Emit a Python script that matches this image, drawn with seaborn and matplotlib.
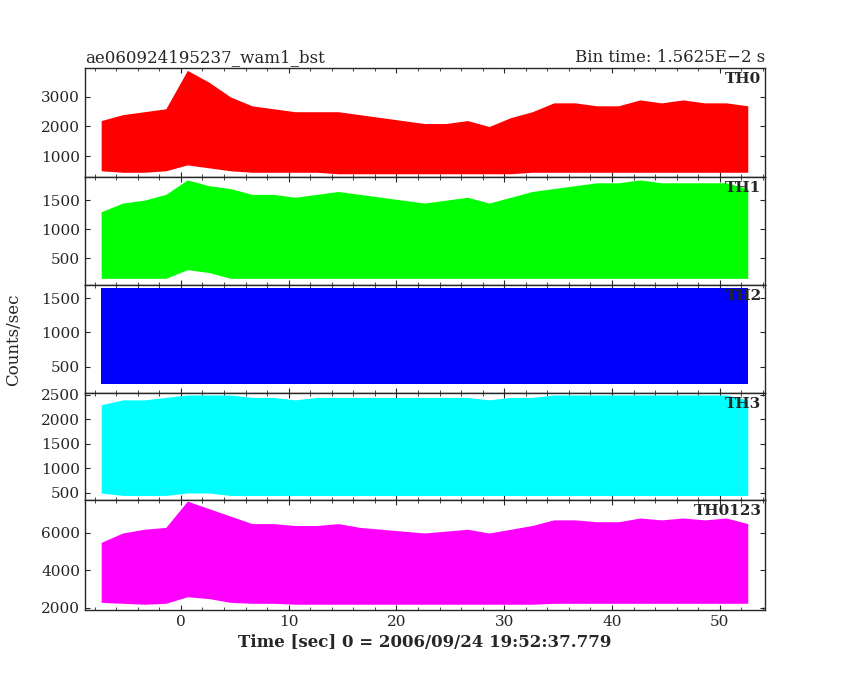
import numpy as np
import matplotlib
matplotlib.use("Agg")
import matplotlib.pyplot as plt
import seaborn as sns

sns.set_style("ticks")
plt.rcParams['font.family'] = ['DejaVu Serif']

# envelope of each light curve, read at 2 s steps from -7.4 s to 52.6 s
time_s = [-7.4, -5.4, -3.4, -1.4, 0.6, 2.6, 4.6, 6.6, 8.6, 10.6, 12.6, 14.6, 16.6,
          18.6, 20.6, 22.6, 24.6, 26.6, 28.6, 30.6, 32.6, 34.6, 36.6, 38.6, 40.6,
          42.6, 44.6, 46.6, 48.6, 50.6, 52.6]

th0_hi = [2200, 2400, 2500, 2600, 3900, 3500, 3000, 2700, 2600, 2500, 2500, 2500, 2400,
          2300, 2200, 2100, 2100, 2200, 2000, 2300, 2500, 2800, 2800, 2700, 2700,
          2900, 2800, 2900, 2800, 2800, 2700]
th0_lo = [500, 450, 450, 500, 700, 600, 500, 450, 450, 450, 450, 400, 400,
          400, 400, 400, 400, 400, 400, 400, 450, 450, 450, 450, 450,
          450, 450, 450, 450, 450, 450]
th1_hi = [1300, 1450, 1500, 1600, 1850, 1750, 1700, 1600, 1600, 1550, 1600, 1650, 1600,
          1550, 1500, 1450, 1500, 1550, 1450, 1550, 1650, 1700, 1750, 1800, 1800,
          1850, 1800, 1800, 1800, 1800, 1700]
th1_lo = [150, 150, 150, 150, 300, 250, 150, 150, 150, 150, 150, 150, 150,
          150, 150, 150, 150, 150, 150, 150, 150, 150, 150, 150, 150,
          150, 150, 150, 150, 150, 150]
th2_hi = [1650, 1650, 1650, 1650, 1650, 1650, 1650, 1650, 1650, 1650, 1650, 1650, 1650,
          1650, 1650, 1650, 1650, 1650, 1650, 1650, 1650, 1650, 1650, 1650, 1650,
          1650, 1650, 1650, 1650, 1650, 1650]
th2_lo = [250, 250, 250, 250, 250, 250, 250, 250, 250, 250, 250, 250, 250,
          250, 250, 250, 250, 250, 250, 250, 250, 250, 250, 250, 250,
          250, 250, 250, 250, 250, 250]
th3_hi = [2300, 2400, 2400, 2450, 2500, 2500, 2500, 2450, 2450, 2400, 2450, 2450, 2450,
          2450, 2450, 2450, 2450, 2450, 2400, 2450, 2450, 2500, 2500, 2500, 2500,
          2500, 2500, 2500, 2500, 2500, 2400]
th3_lo = [500, 450, 450, 450, 500, 500, 450, 450, 450, 450, 450, 450, 450,
          450, 450, 450, 450, 450, 450, 450, 450, 450, 450, 450, 450,
          450, 450, 450, 450, 450, 450]
th0123_hi = [5500, 6000, 6200, 6300, 7700, 7300, 6900, 6500, 6500, 6400, 6400, 6500, 6300,
             6200, 6100, 6000, 6100, 6200, 6000, 6200, 6400, 6700, 6700, 6600, 6600,
             6800, 6700, 6800, 6700, 6800, 6500]
th0123_lo = [2300, 2250, 2200, 2250, 2600, 2500, 2300, 2250, 2250, 2200, 2200, 2200, 2200,
             2200, 2200, 2200, 2200, 2200, 2200, 2200, 2200, 2250, 2250, 2250, 2250,
             2250, 2250, 2250, 2250, 2250, 2250]

panels = [
    ("TH0", th0_lo, th0_hi, "#ff0000", (290, 3980), [1000, 2000, 3000]),
    ("TH1", th1_lo, th1_hi, "#00ff00", (35, 1900), [500, 1000, 1500]),
    ("TH2", th2_lo, th2_hi, "#0000ff", (120, 1690), [500, 1000, 1500]),
    ("TH3", th3_lo, th3_hi, "#00ffff", (357, 2540), [500, 1000, 1500, 2000, 2500]),
    ("TH0123", th0123_lo, th0123_hi, "#ff00ff", (1893, 7760), [2000, 4000, 6000]),
]

fig = plt.figure(figsize=(8.5, 6.8), dpi=100)
fig.patch.set_facecolor("white")
left, right = 85 / 850, 765 / 850
edges = [68, 177, 285, 393, 500, 610]
axes = []
for i, (name, lo, hi, color, ylim, ticks) in enumerate(panels):
    top, bot = edges[i], edges[i + 1]
    ax = fig.add_axes([left, 1 - bot / 680, right - left, (bot - top) / 680])
    ax.fill_between(time_s, lo, hi, color=color, lw=0)
    ax.set_xlim(-8.9, 54.2)
    ax.set_ylim(*ylim)
    ax.set_yticks(ticks)
    ax.xaxis.set_minor_locator(matplotlib.ticker.MultipleLocator(2))
    ax.tick_params(direction="in", top=True, right=True, which="both", labelsize=11)
    ax.text(0.995, 0.96, name, transform=ax.transAxes, ha="right", va="top",
            fontsize=11, fontweight="bold")
    for s in ax.spines.values():
        s.set_linewidth(1.0)
    if i < 4:
        ax.set_xticklabels([])
    axes.append(ax)

axes[0].set_title("ae060924195237_wam1_bst", loc="left", fontsize=12, pad=4)
axes[0].set_title("Bin time: 1.5625E\u22122 s", loc="right", fontsize=12, pad=4)
axes[-1].set_xlabel("Time [sec] 0 = 2006/09/24 19:52:37.779", fontsize=12, fontweight="bold")
fig.text(14 / 850, 0.5, "Counts/sec", rotation=90, va="center", ha="center", fontsize=12)

fig.savefig("out.png", dpi=100)
